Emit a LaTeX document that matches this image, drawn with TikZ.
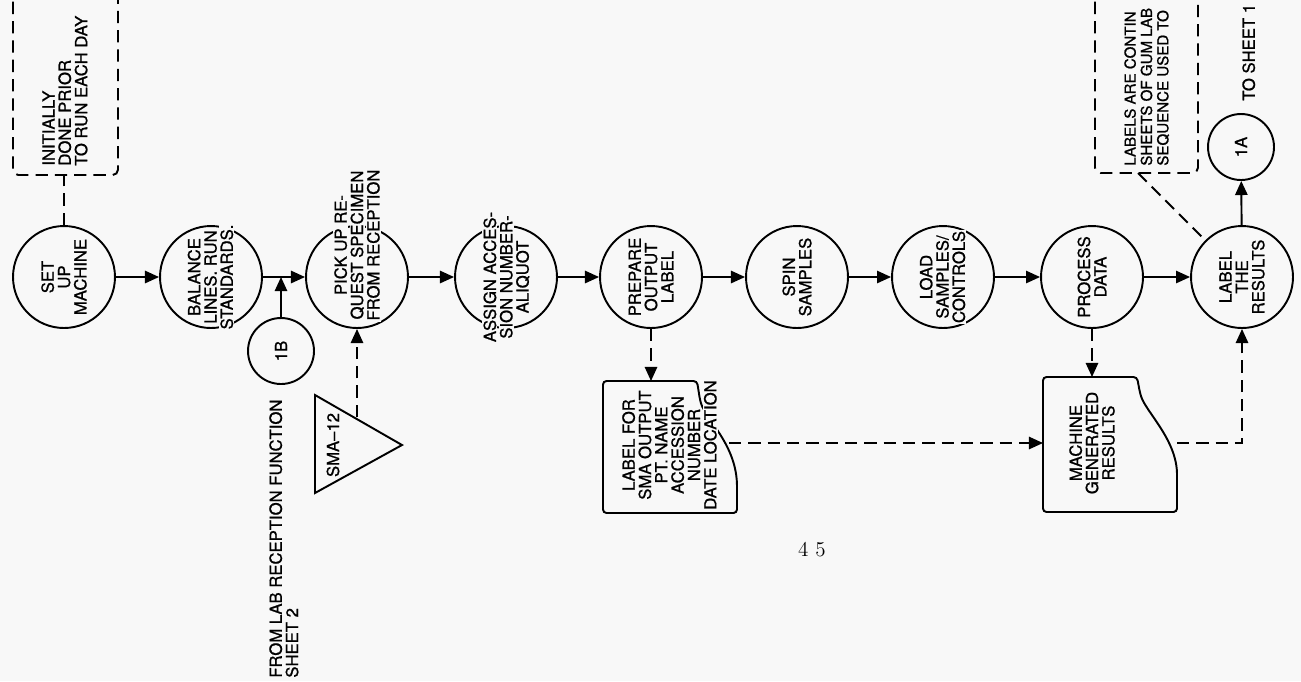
\documentclass[tikz,border=0pt]{standalone}
\usepackage{fontspec}
\setsansfont{TeX Gyre Heros}[FakeBold=1]
\usepackage{xcolor}
\usetikzlibrary{arrows.meta, positioning}
\definecolor{paper}{RGB}{248,248,248}
\newcommand{\gl}[1]{{\setlength{\fboxsep}{0.6pt}\colorbox{paper}{#1}}}

\begin{document}
\begin{tikzpicture}[
    x=0.02cm, y=-0.02cm,
    every node/.style={font=\sffamily\fontsize{9.5}{9.3}\selectfont, inner sep=0pt},
    ctext/.style={rotate=90, align=center},
    proc/.style={circle, draw, line width=1.1pt, minimum size=2.04cm, label={[ctext]center:{#1}}},
    conn/.style={circle, draw, line width=1.1pt, minimum size=1.32cm, rotate=90},
    vtext/.style={rotate=90, align=left, anchor=north west},
    note/.style={draw, line width=1.1pt, rounded corners=3pt, dash pattern=on 7pt off 4pt},
    doc/.style={draw, line width=1.1pt, rounded corners=2pt},
    flow/.style={line width=1.1pt, -{Triangle[length=8pt, width=7pt]}},
    dflow/.style={flow, dash pattern=on 7pt off 4pt},
    dline/.style={line width=1.1pt, dash pattern=on 7pt off 4pt}
]
\clip (0,0) rectangle (1301,681);
\fill[paper] (0,0) rectangle (1301,681);

\node[note, minimum width=2.1cm, minimum height=5cm] (note1) at (65.5,50) {};
\node[vtext] (note1txt) at (42,166) {INITIALLY\\DONE PRIOR\\TO RUN EACH DAY};
\node[note, minimum width=2.06cm, minimum height=5cm] (note2) at (1146.5,48) {};
\node[vtext, font=\sffamily\fontsize{8.6}{9.3}\selectfont] (note2txt) at (1124,166) {LABELS ARE CONTIN\\SHEETS OF GUM LAB\\SEQUENCE USED TO};
\coordinate (n2foot) at (1138,173);

\node[proc={SET\\UP\\MACHINE}] (setup) at (64,277) {};
\node[proc={BALANCE\\\gl{LINES. RUN}\\\gl{STANDARDS.}}] (bal) at (211,277) {};
\node[proc={}] (pick) at (357,277) {};
\node[ctext] (picktxt) at (357,245) {\gl{PICK UP RE-}\\\gl{QUEST SPECIMEN}\\\gl{FROM RECEPTION}};
\node[proc={\gl{ASSIGN ACCES-}\\\gl{SION NUMBER-}\\ALIQUOT}] (assign) at (506,277) {};
\node[proc={PREPARE\\OUTPUT\\LABEL}] (prep) at (651,277) {};
\node[proc={SPIN\\SAMPLES}] (spin) at (797,277) {};
\node[proc={LOAD\\\gl{SAMPLES/}\\\gl{CONTROLS}}] (load) at (943,277) {};
\node[proc={PROCESS\\DATA}] (procdata) at (1092,277) {};
\node[proc={LABEL\\THE\\RESULTS}] (lab) at (1242,277) {};

\node[conn] (s1b) at (281,351) {1B};
\node[conn] (s1a) at (1241,147) {1A};
\node[vtext] (tosheet) at (1242,101) {TO SHEET 1};
\node[vtext] (fromlab) at (269,678) {FROM LAB RECEPTION FUNCTION\\SHEET 2};

\draw[line width=1.1pt] (315,395) -- (402,445) -- (315,493) -- cycle;
\node[rotate=90] (smatxt) at (333,445) {SMA--12};
\coordinate (smaout) at (357,417);

\draw[doc] (603,381) -- (697,381) -- (700,400) .. controls (706,420) and (737,445) .. (737,490) -- (737,513) -- (603,513) -- cycle;
\node[ctext] (lbltxt) at (670,445) {LABEL FOR\\SMA OUTPUT\\PT. NAME\\ACCESSION\\NUMBER\\\gl{DATE LOCATION}};
\coordinate (lbltop) at (651,381);
\coordinate (lblout) at (729,443);

\draw[doc] (1043,377) -- (1137,377) -- (1140,393) .. controls (1146,412) and (1177,440) .. (1177,478) -- (1177,512) -- (1043,512) -- cycle;
\node[ctext] (mgtxt) at (1092,443) {MACHINE\\GENERATED\\RESULTS};
\coordinate (mgtop) at (1092,377);
\coordinate (mgin) at (1043,443);
\coordinate (mgout) at (1177,443);

\node[font=\rmfamily\fontsize{12}{13}\selectfont] (pageno) at (812,550) {4 5};

\draw[flow] (setup) -- (bal);
\draw[flow] (bal) -- (pick);
\draw[flow] (s1b) -- (s1b |- bal);
\draw[flow] (pick) -- (assign);
\draw[flow] (assign) -- (prep);
\draw[flow] (prep) -- (spin);
\draw[flow] (spin) -- (load);
\draw[flow] (load) -- (procdata);
\draw[flow] (procdata) -- (lab);
\draw[flow] (lab) -- (s1a);
\draw[dline] (setup) -- (setup |- note1.south);
\draw[dline] (n2foot) -- (lab);
\draw[dflow] (smaout) -- (pick);
\draw[dflow] (prep) -- (lbltop);
\draw[dflow] (lblout) -- (mgin);
\draw[dflow] (procdata) -- (mgtop);
\draw[dflow] (mgout) -| (lab);
\end{tikzpicture}
\end{document}
